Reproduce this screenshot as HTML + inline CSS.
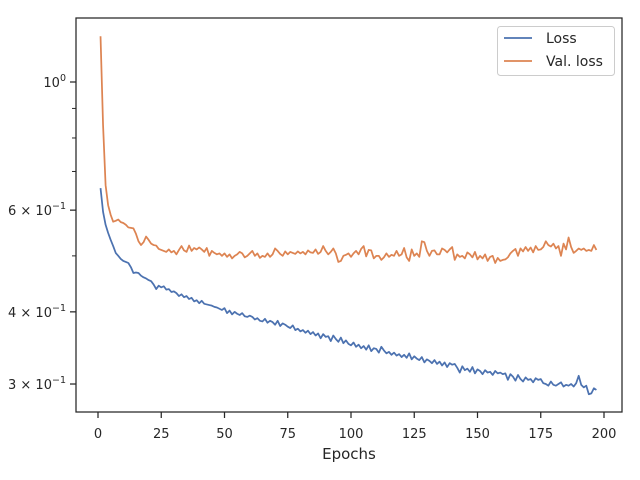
<!DOCTYPE html>
<html><head><meta charset="utf-8"><style>
body{margin:0;background:#fff;}
svg{display:block;font-family:"DejaVu Sans","Liberation Sans",sans-serif;}
</style></head><body>
<svg id="chart" width="640" height="480" xmlns="http://www.w3.org/2000/svg">
<rect width="640" height="480" fill="#fff"/>
<g id="plot"></g>
<rect x="76" y="18" width="546" height="394" fill="none" stroke="#262626" stroke-width="1.25"/>
<g id="axes"></g>
<text x="349" y="459" text-anchor="middle" font-size="15" fill="#262626">Epochs</text>
<g>
<rect x="497.5" y="26.5" width="117" height="49" rx="3" fill="#fff" fill-opacity="0.8" stroke="#ccc"/>
<line x1="504" y1="38" x2="532" y2="38" stroke="#4c72b0" stroke-width="1.75"/>
<text x="546" y="43" font-size="14" fill="#262626">Loss</text>
<line x1="504" y1="61" x2="532" y2="61" stroke="#dd8452" stroke-width="1.75"/>
<text x="546" y="66" font-size="14" fill="#262626">Val. loss</text>
</g>
</svg>
<script>
const loss=[.655,.596,.566,.548,.533,.520,.506,.500,.494,.490,
.488,.486,.478,.467,.468,.467,.462,.459,.457,.454,
.452,.446,.438,.444,.441,.443,.437,.438,.433,.434,
.431,.426,.429,.424,.426,.421,.423,.417,.419,.414,
.418,.413,.412,.411,.410,.408,.407,.405,.403,.406,
.398,.402,.396,.400,.397,.395,.398,.393,.392,.394,
.392,.388,.390,.386,.385,.389,.383,.386,.384,.380,
.386,.378,.382,.380,.377,.375,.379,.372,.374,.370,
.372,.368,.371,.366,.369,.364,.367,.360,.366,.362,
.363,.356,.364,.359,.355,.361,.353,.357,.352,.350,
.354,.348,.351,.346,.349,.344,.350,.342,.346,.345,
.340,.348,.343,.339,.341,.337,.340,.336,.338,.334,
.337,.333,.339,.331,.335,.332,.330,.334,.327,.331,
.329,.326,.330,.325,.328,.323,.327,.321,.326,.324,
.325,.320,.314,.322,.317,.319,.315,.321,.313,.318,
.316,.312,.317,.314,.315,.311,.316,.313,.314,.312,
.313,.305,.312,.309,.304,.311,.306,.303,.308,.305,
.306,.302,.307,.305,.306,.301,.300,.298,.303,.299,
.298,.300,.302,.297,.299,.298,.300,.297,.301,.310,
.299,.296,.298,.288,.289,.295,.293];
const valLoss=[1.20,.842,.663,.612,.589,.573,.575,.578,.572,.570,
.566,.560,.559,.558,.546,.530,.522,.528,.540,.533,
.525,.522,.521,.514,.512,.510,.508,.513,.507,.510,
.503,.512,.520,.511,.508,.521,.510,.516,.513,.517,
.513,.508,.516,.500,.510,.506,.503,.505,.500,.505,
.498,.503,.495,.500,.503,.508,.505,.497,.500,.505,
.510,.500,.505,.496,.500,.498,.505,.498,.503,.515,
.510,.504,.500,.509,.503,.508,.506,.504,.509,.505,
.508,.503,.511,.507,.506,.513,.504,.508,.520,.510,
.503,.508,.515,.505,.488,.490,.500,.502,.505,.498,
.505,.510,.503,.514,.520,.499,.512,.511,.495,.500,
.500,.492,.497,.505,.498,.502,.500,.510,.500,.503,
.516,.497,.490,.513,.500,.505,.498,.530,.528,.510,
.500,.510,.511,.503,.503,.515,.512,.507,.513,.518,
.492,.503,.498,.500,.495,.507,.503,.497,.508,.493,
.500,.495,.503,.490,.498,.500,.486,.496,.490,.492,
.493,.497,.505,.510,.514,.500,.515,.509,.518,.510,
.517,.507,.520,.512,.513,.518,.530,.522,.519,.525,
.515,.520,.500,.525,.513,.538,.518,.506,.510,.515,
.512,.515,.510,.512,.510,.522,.512];
const xTicks=[0,25,50,75,100,125,150,175,200];
const yMajor=[1,0.6,0.4,0.3];
const yMajorLabels=[["10","0"],["6 × 10","−1"],["4 × 10","−1"],["3 × 10","−1"]];
const yMinor=[0.9,0.8,0.7,0.5];

const NS="http://www.w3.org/2000/svg";
const xs=v=>98+v*(604-98)/200;
const ys=v=>82-Math.log10(v)*577.6;
const plot=document.getElementById('plot'),axes=document.getElementById('axes');
function mk(t,a,p){const e=document.createElementNS(NS,t);for(const k in a)e.setAttribute(k,a[k]);p.appendChild(e);return e;}
function line(arr,color,name){
  const d=arr.map((v,i)=>(i?'L':'M')+xs(i+1).toFixed(2)+' '+ys(v).toFixed(2)).join(' ');
  const p=mk('path',{d:d,fill:'none',stroke:color,'stroke-width':1.75,'stroke-linejoin':'round'},plot);
  
  
}
line(loss,'#4c72b0','loss-line');
line(valLoss,'#dd8452','val-loss-line');
xTicks.forEach(t=>{
  const x=xs(t);
  const l=mk('line',{x1:x,x2:x,y1:412,y2:418,stroke:'#262626','stroke-width':1.25},axes);
  
  
  const tx=mk('text',{x:x,y:438,'text-anchor':'middle','font-size':13,fill:'#262626'},axes);
  tx.textContent=t;
  
  
});
yMajor.forEach((v,i)=>{
  const y=ys(v);
  const l=mk('line',{x1:70,x2:76,y1:y,y2:y,stroke:'#262626','stroke-width':1.25},axes);
  
  
  const tx=mk('text',{x:66,y:y+5,'text-anchor':'end','font-size':13,fill:'#262626'},axes);
  
  
  const a=mk('tspan',{},tx);a.textContent=yMajorLabels[i][0];
  const b=mk('tspan',{dy:-6,'font-size':9.5},tx);b.textContent=yMajorLabels[i][1];
});
yMinor.forEach(v=>{
  const y=ys(v);
  const l=mk('line',{x1:72,x2:76,y1:y,y2:y,stroke:'#262626','stroke-width':1},axes);
  
  
});
</script>
</body></html>
